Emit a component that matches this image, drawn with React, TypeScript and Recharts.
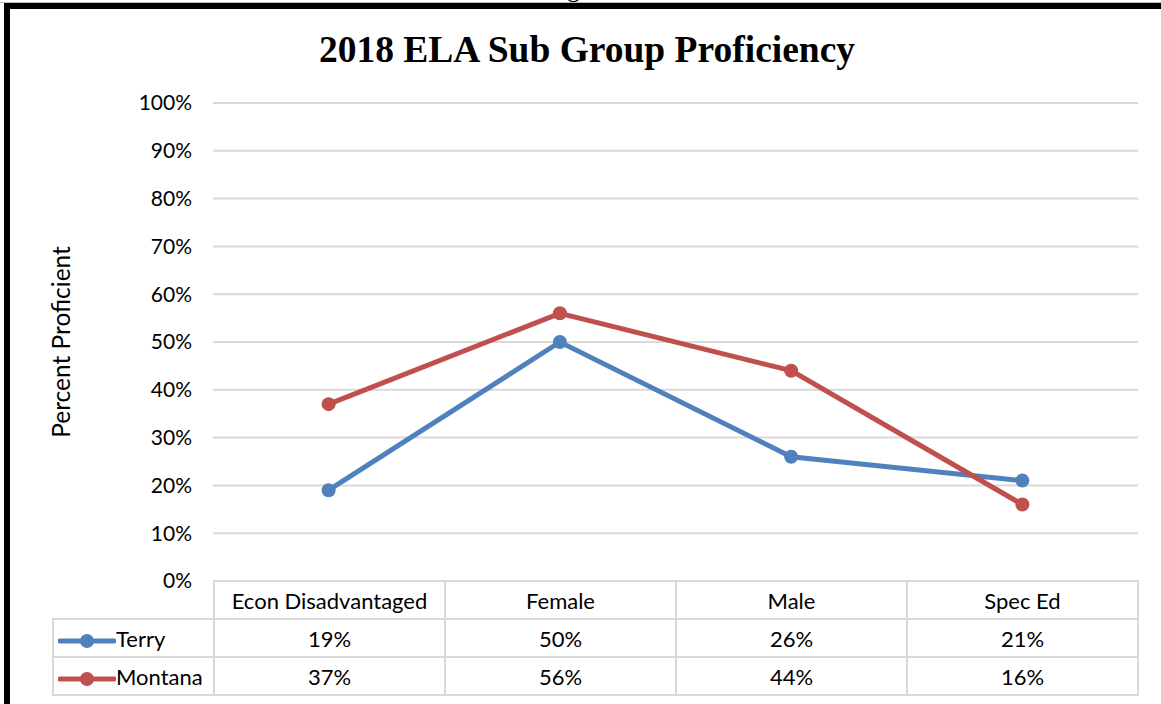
import React from 'react';
import { CartesianGrid, Line, LineChart, XAxis, YAxis } from 'recharts';

const categories = ['Econ Disadvantaged', 'Female', 'Male', 'Spec Ed'];
const terry = [19, 50, 26, 21];
const montana = [37, 56, 44, 16];
const yTicks = [0, 10, 20, 30, 40, 50, 60, 70, 80, 90, 100];

const seriesList = [
  { name: 'Terry', values: terry, color: '#4F81BD' },
  { name: 'Montana', values: montana, color: '#C0504D' },
];

const data = categories.map((c, i) => ({ name: c, Terry: terry[i], Montana: montana[i] }));

const FONT = 'Lato, "Open Sans", sans-serif';
const GRID = '#d9d9d9';

const cell: React.CSSProperties = {
  border: `2px solid ${GRID}`,
  padding: 0,
  height: 36,
  width: 229,
  textAlign: 'center',
  verticalAlign: 'middle',
  fontFamily: FONT,
  fontSize: 22,
  color: '#000',
};

const LegendKey = ({ color }: { color: string }) => (
  <svg width={58} height={20} style={{ verticalAlign: 'middle', marginLeft: 4 }}>
    <line x1={2} y1={10} x2={56} y2={10} stroke={color} strokeWidth={5} strokeLinecap='round' />
    <circle cx={29} cy={10} r={7} fill={color} />
  </svg>
);

const App = () => {
  return (
    <div style={{ position: 'absolute', left: 0, top: 0, width: 1161, height: 704, background: '#fff', overflow: 'hidden' }}>
      <div style={{ position: 'absolute', left: 0, top: 2, width: 1161, height: 1, background: '#bbb' }} />
      <div
        style={{
          position: 'absolute',
          left: 4,
          top: 3,
          width: 1200,
          height: 800,
          borderLeft: '6px solid #000',
          borderTop: '6px solid #000',
        }}
      />
      <div
        style={{
          position: 'absolute',
          left: 567,
          top: -24,
          fontFamily: '"Liberation Serif", serif',
          fontSize: 26,
          lineHeight: '26px',
        }}
      >
        g
      </div>
      <div
        style={{
          position: 'absolute',
          left: 587,
          top: 31,
          transform: 'translateX(-50%)',
          whiteSpace: 'nowrap',
          fontFamily: '"Liberation Serif", "Times New Roman", serif',
          fontWeight: 'bold',
          fontSize: 37.5,
          lineHeight: '37px',
        }}
      >
        2018 ELA Sub Group Proficiency
      </div>
      <div
        style={{
          position: 'absolute',
          left: 60,
          top: 342,
          transform: 'translate(-50%, -50%) rotate(-90deg)',
          whiteSpace: 'nowrap',
          fontFamily: FONT,
          fontSize: 24.5,
        }}
      >
        Percent Proficient
      </div>
      <div style={{ position: 'absolute', left: 0, top: 0 }}>
        <LineChart width={1161} height={704} data={data} margin={{ top: 103, right: 23, bottom: 123, left: 153 }}>
          <CartesianGrid vertical={false} stroke={GRID} strokeWidth={2} />
          <XAxis dataKey='name' hide scale='band' />
          <YAxis
            domain={[0, 100]}
            ticks={yTicks}
            interval={0}
            width={60}
            axisLine={false}
            tickLine={false}
            tickSize={0}
            tickMargin={21}
            tickFormatter={(v: number) => `${v}%`}
            tick={{ fill: '#000', fontFamily: FONT, fontSize: 21 }}
          />
          {seriesList.map((s) => (
            <Line
              key={s.name}
              dataKey={s.name}
              type='linear'
              stroke={s.color}
              strokeWidth={5}
              dot={{ r: 7, fill: s.color, stroke: s.color, strokeWidth: 0 }}
              isAnimationActive={false}
            />
          ))}
        </LineChart>
      </div>
      <table style={{ position: 'absolute', left: 52, top: 580, borderCollapse: 'collapse', tableLayout: 'fixed' }}>
        <tbody>
          <tr>
            <td style={{ ...cell, width: 159, border: 'none' }} />
            {categories.map((c) => (
              <td key={c} style={cell}>
                {c}
              </td>
            ))}
          </tr>
          {seriesList.map((s) => (
            <tr key={s.name}>
              <td style={{ ...cell, width: 159, textAlign: 'left', whiteSpace: 'nowrap' }}>
                <LegendKey color={s.color} />
                {s.name}
              </td>
              {s.values.map((v, i) => (
                <td key={i} style={cell}>
                  {v}%
                </td>
              ))}
            </tr>
          ))}
        </tbody>
      </table>
    </div>
  );
};

export default App;
